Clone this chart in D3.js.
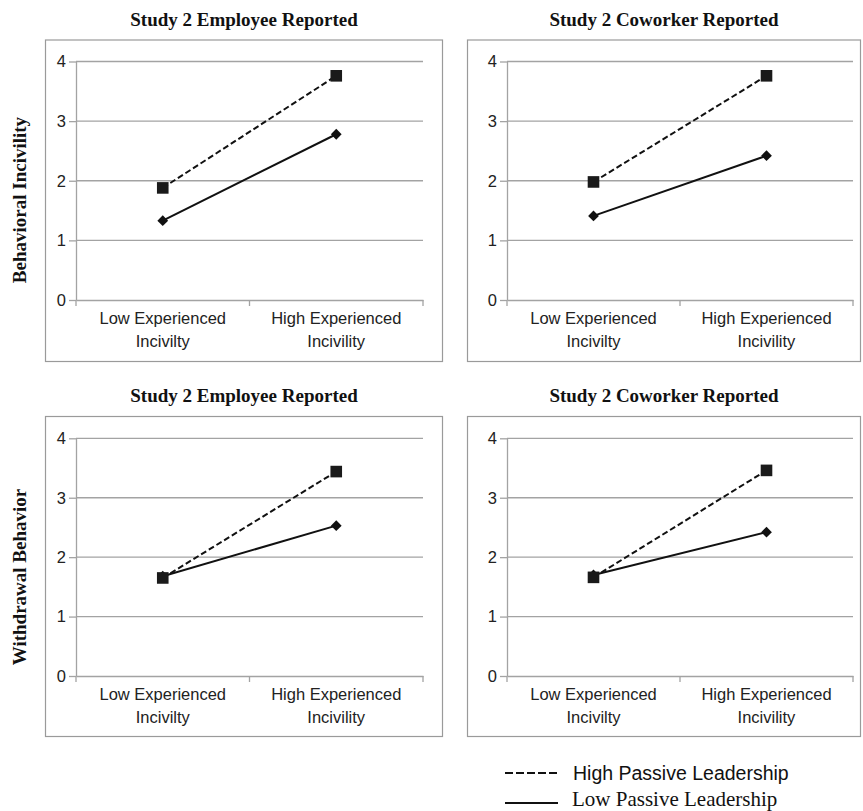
<!DOCTYPE html>
<html>
<head>
<meta charset="utf-8">
<script src="https://cdn.jsdelivr.net/npm/d3@7"></script>
<style>
  html, body { margin: 0; padding: 0; background: #fff; }
  svg { display: block; }
</style>
</head>
<body>
<svg id="chart" width="863" height="811"></svg>
<script>
// ---- Data ----
const categories = ["Low Experienced Incivilty", "High Experienced Incivility"];
const categoryLines = [["Low Experienced", "Incivilty"], ["High Experienced", "Incivility"]];
const panelTitles = ["Study 2 Employee Reported", "Study 2 Coworker Reported",
                     "Study 2 Employee Reported", "Study 2 Coworker Reported"];
const rowLabels = ["Behavioral Incivility", "Withdrawal Behavior"];
const seriesNames = ["High Passive Leadership", "Low Passive Leadership"];
// values per panel: [low experienced, high experienced]
const highPassive = [[1.88, 3.76], [1.98, 3.76], [1.65, 3.44], [1.66, 3.46]];
const lowPassive  = [[1.33, 2.78], [1.41, 2.42], [1.68, 2.53], [1.70, 2.42]];
const yTicks = [0, 1, 2, 3, 4];

// ---- Layout ----
const svg = d3.select("#chart");
const sans = "'Liberation Sans', Arial, sans-serif";
const serif = "'Liberation Serif', 'Times New Roman', serif";
const gridColor = "#a3a3a3";

const panels = [
  { box: [45, 39.5, 443, 362], plot: [76, 61.5, 423, 300], titleY: 26 },
  { box: [467, 39.5, 861, 362], plot: [507, 61.5, 853, 300], titleY: 26 },
  { box: [45, 416, 443, 737], plot: [76, 438.3, 423, 676], titleY: 402 },
  { box: [467, 416, 861, 737], plot: [507, 438.3, 853, 676], titleY: 402 }
];

panels.forEach((p, i) => {
  const [bx0, by0, bx1, by1] = p.box;
  const [px0, py0, px1, py1] = p.plot;
  const g = svg.append("g");

  // frame
  g.append("rect")
    .attr("x", bx0 + 0.5).attr("y", by0 + 0.5)
    .attr("width", bx1 - bx0 - 1).attr("height", by1 - by0 - 1)
    .attr("fill", "none").attr("stroke", "#9a9a9a").attr("stroke-width", 1.2);

  // title
  g.append("text")
    .attr("x", (bx0 + bx1) / 2).attr("y", p.titleY)
    .attr("text-anchor", "middle")
    .attr("font-family", serif).attr("font-weight", "bold").attr("font-size", 19)
    .attr("fill", "#111")
    .text(panelTitles[i]);

  const x = d3.scaleBand().domain(categories).range([px0, px1]);
  const y = d3.scaleLinear().domain([0, 4]).range([py1, py0]);

  // gridlines
  g.append("g").selectAll("line").data(yTicks.filter(t => t > 0)).join("line")
    .attr("x1", px0).attr("x2", px1)
    .attr("y1", d => y(d)).attr("y2", d => y(d))
    .attr("stroke", gridColor).attr("stroke-width", 1.3);

  // y axis
  const yAxis = g.append("g").attr("transform", `translate(${px0},0)`)
    .call(d3.axisLeft(y).tickValues(yTicks).tickFormat(d3.format("d")).tickSize(7).tickSizeOuter(0));
  yAxis.select(".domain").attr("stroke", gridColor).attr("stroke-width", 1.3);
  yAxis.selectAll(".tick line").attr("stroke", gridColor).attr("stroke-width", 1.3);
  yAxis.selectAll(".tick text").attr("font-family", sans).attr("font-size", 16.5)
    .attr("fill", "#222").attr("x", -10);

  // x axis
  const xAxis = g.append("g").attr("transform", `translate(0,${py1})`)
    .call(d3.axisBottom(x).tickSize(0).tickSizeOuter(0).tickFormat(""));
  xAxis.select(".domain").attr("stroke", gridColor).attr("stroke-width", 1.3);
  // boundary tick marks between categories
  const bounds = [px0, ...categories.map(c => x(c) + x.bandwidth())];
  g.append("g").selectAll("line").data(bounds).join("line")
    .attr("x1", d => d).attr("x2", d => d)
    .attr("y1", py1).attr("y2", py1 + 6)
    .attr("stroke", gridColor).attr("stroke-width", 1.3);
  // category labels
  categories.forEach((c, ci) => {
    const cx = x(c) + x.bandwidth() / 2;
    const t = g.append("text").attr("text-anchor", "middle")
      .attr("font-family", sans).attr("font-size", 16.5).attr("fill", "#222");
    categoryLines[ci].forEach((ln, li) => {
      t.append("tspan").attr("x", cx).attr("y", py1 + 24 + li * 23).text(ln);
    });
  });

  const cxOf = ci => x(categories[ci]) + x.bandwidth() / 2;
  const line = d3.line().x((d, ci) => cxOf(ci)).y(d => y(d));

  // low passive (solid, diamonds)
  g.append("path").datum(lowPassive[i]).attr("d", line)
    .attr("fill", "none").attr("stroke", "#111").attr("stroke-width", 2);
  g.append("g").selectAll("path").data(lowPassive[i]).join("path")
    .attr("d", d3.symbol(d3.symbolSquare, 58)())
    .attr("transform", (d, ci) => `translate(${cxOf(ci)},${y(d)}) rotate(45)`)
    .attr("fill", "#111");

  // high passive (dashed, squares)
  g.append("path").datum(highPassive[i]).attr("d", line)
    .attr("fill", "none").attr("stroke", "#111").attr("stroke-width", 2)
    .attr("stroke-dasharray", "6,3");
  g.append("g").selectAll("rect").data(highPassive[i]).join("rect")
    .attr("x", (d, ci) => cxOf(ci) - 5.8).attr("y", d => y(d) - 5.8)
    .attr("width", 11.6).attr("height", 11.6)
    .attr("fill", "#1a1a1a");
});

// row labels
const rowCenters = [200, 577];
rowLabels.forEach((lbl, r) => {
  svg.append("text")
    .attr("transform", `translate(26,${rowCenters[r]}) rotate(-90)`)
    .attr("text-anchor", "middle")
    .attr("font-family", serif).attr("font-weight", "bold").attr("font-size", 19)
    .attr("fill", "#111")
    .text(lbl);
});

// legend
const legend = svg.append("g");
legend.append("line").attr("x1", 505).attr("x2", 558).attr("y1", 773).attr("y2", 773)
  .attr("stroke", "#111").attr("stroke-width", 2).attr("stroke-dasharray", "8,3");
legend.append("text").attr("x", 573).attr("y", 780)
  .attr("font-family", sans).attr("font-size", 19.5).attr("fill", "#111")
  .text(seriesNames[0]);
legend.append("line").attr("x1", 505).attr("x2", 558).attr("y1", 803).attr("y2", 803)
  .attr("stroke", "#111").attr("stroke-width", 2);
legend.append("text").attr("x", 572).attr("y", 805.5)
  .attr("font-family", serif).attr("font-size", 21).attr("fill", "#111")
  .text(seriesNames[1]);
</script>
</body>
</html>
